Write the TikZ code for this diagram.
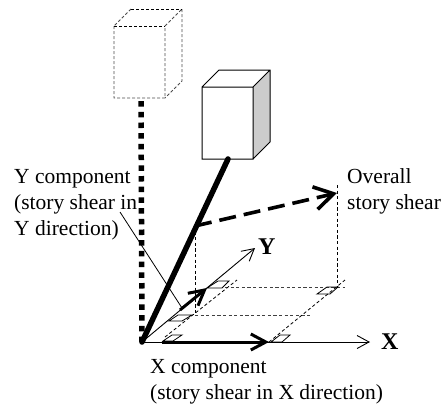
\documentclass[tikz,border=0pt]{standalone}
\usepackage{fontspec}
\setmainfont{Liberation Serif}
\usetikzlibrary{arrows.meta}
\tikzset{
    label text/.style = {font=\fontsize{21.5}{25.7}\selectfont, inner sep=0pt, align=left},
    axis name/.style = {font=\fontsize{24}{26}\selectfont\bfseries, inner sep=0pt},
    thin dash/.style = {line width=0.8pt, dash pattern=on 3.2pt off 2.4pt},
    right mark/.style = {line width=0.8pt},
    axis/.style = {line width=0.9pt, -{Straight Barb[length=12pt,width=13pt,line width=0.9pt]}},
    component/.style = {line width=3pt, -{Straight Barb[length=15pt,width=16pt,line width=3pt]}}
}
\begin{document}
\begin{tikzpicture}[x=1pt,y=-1pt]
    \useasboundingbox (0,0) rectangle (442,405);
    % ground points
    \coordinate (O) at (142,342);
    \coordinate (Xaxis) at (370,342);
    \coordinate (Yaxis) at (255,248);
    \coordinate (Xfoot) at (269,342);
    \coordinate (Yfoot) at (207,288);
    \coordinate (Xstart) at (162,342);
    \coordinate (Ystart) at (180,310);
    \coordinate (Top) at (337,193);
    \coordinate (Corner) at (337,287);
    \coordinate (Tail) at (195,226);
    \coordinate (TailFoot) at (195,315);
    \coordinate (Base) at (228,159);
    \coordinate (Ghost) at (141,98);
    % displaced and original box
    \draw[line width=0.9pt,dash pattern=on 3pt off 2pt,black!70]
        (114,26) -- (114,98) -- (165,98) -- (165,26)
        (131,9) -- (114,26)
        (182,9) -- (182,81) -- (165,98)
        (165,26) -- (182,9);
    \draw[line width=0.9pt,dash pattern=on 3pt off 2pt] (114,26) -- (165,26) (131,9) -- (182,9);
    \fill[black!20] (253,87) -- (270,70) -- (270,142) -- (253,159) -- cycle;
    \draw[line width=1pt] (202,87) rectangle (253,159)
        (202,87) -- (219,70) -- (270,70) -- (270,142) -- (253,159)
        (253,87) -- (270,70);
    % columns
    \draw[line width=5.5pt,dash pattern=on 5.5pt off 5.2pt] (O) -- (Ghost);
    \draw[line width=5.5pt,line cap=round] (O) -- (Base);
    % guide lines
    \draw[thin dash] (Top) ++(0,-8) -- (Corner);
    \draw[thin dash] (Tail) -- (TailFoot);
    \draw[thin dash,black!75] (225,287) -- (345,287);
    \draw[thin dash,black!75] (TailFoot) -- (312,315);
    \draw[thin dash] (Xfoot) -- (345,280);
    \draw[thin dash] (165,337) -- (237,280);
    % right angle marks
    \draw[right mark] (163,341) -- (172,335) -- (182,335) -- (173,341) -- cycle;
    \draw[right mark] (169,321) -- (178,315) -- (192,315) -- (182,321) -- cycle;
    \draw[right mark] (207,288) -- (218,281) -- (229,281) -- (222,288) -- cycle;
    \draw[right mark] (317,294) -- (327,287) -- (338,287) -- (330,294) -- cycle;
    \draw[right mark] (271,342) -- (280,335) -- (290,335) -- (282,342) -- cycle;
    % axes and components
    \draw[axis] (O) -- (Xaxis);
    \draw[axis] (O) -- (Yaxis);
    \draw[component] (Xstart) -- (Xfoot);
    \draw[component] (Ystart) -- (Yfoot);
    \draw[line width=3.6pt,dash pattern=on 17pt off 8pt,-{Straight Barb[length=19pt,width=23pt,line width=3.6pt]}] (Tail) -- (Top);
    % labels
    \node[label text,anchor=north west] (Ylabel) at (14,169.5) {Y component\\(story shear in\\Y direction)};
    \node[label text,anchor=north west] (Overall) at (347,168.5) {Overall\\story shear};
    \node[label text,anchor=north west] (Xlabel) at (150,359.5) {X component\\(story shear in X direction)};
    \node[axis name,anchor=west] (Yname) at (258,247) {Y};
    \node[axis name,anchor=west] (Xname) at (381,342) {X};
    \coordinate (Leader) at (120,212);
    \draw[line width=0.8pt] (Leader) -- (182,308);
\end{tikzpicture}
\end{document}
